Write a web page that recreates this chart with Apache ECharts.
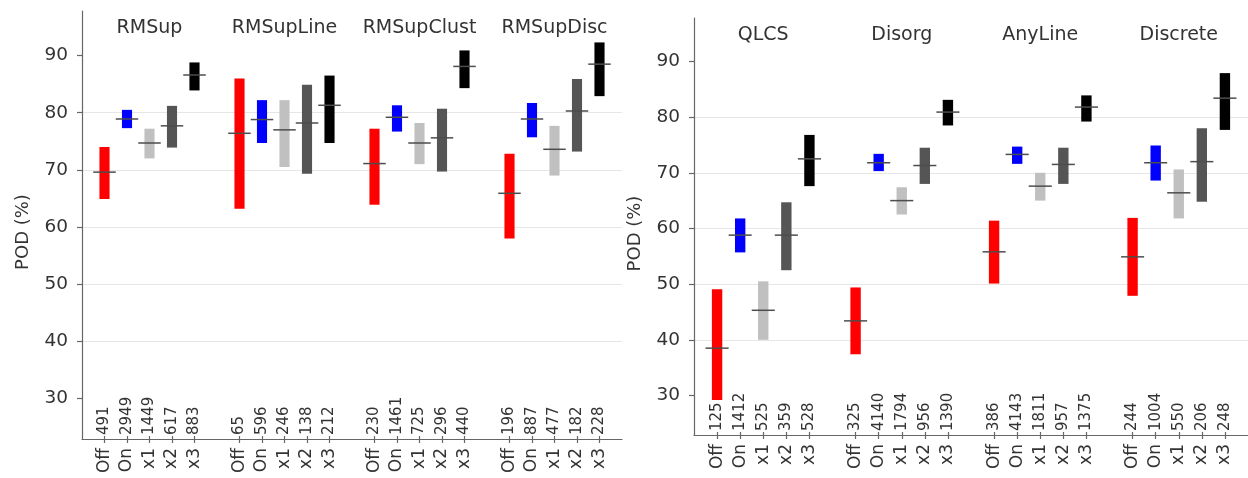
<!DOCTYPE html>
<html>
<head>
<meta charset="utf-8">
<script src="https://cdn.jsdelivr.net/npm/echarts@6/dist/echarts.min.js"></script>
<style>
  html, body { margin: 0; padding: 0; background: #ffffff; }
  #chart { width: 1248px; height: 478px; }
</style>
</head>
<body>
<div id="chart"></div>
<script>
// Detection modes shown inside every group, and their bar colours
const modes = ['Off', 'On', 'x1', 'x2', 'x3'];
const modeColors = ['#ff0000', '#0000ff', '#c0c0c0', '#555555', '#000000'];

// Left panel: rear-inflow-jet subsets
const leftGroups = ['RMSup', 'RMSupLine', 'RMSupClust', 'RMSupDisc'];
const leftLow = [
  [64.9, 77.3, 72.0, 73.9, 83.9],
  [63.2, 74.7, 70.5, 69.3, 74.7],
  [63.9, 76.7, 71.0, 69.7, 84.3],
  [58.0, 75.7, 69.0, 73.2, 82.9]
];
const leftMedian = [
  [69.6, 78.9, 74.7, 77.7, 86.6],
  [76.4, 78.8, 77.0, 78.2, 81.3],
  [71.1, 79.2, 74.7, 75.6, 88.1],
  [65.9, 78.9, 73.6, 80.3, 88.5]
];
const leftHigh = [
  [74.0, 80.5, 77.2, 81.2, 88.8],
  [86.0, 82.2, 82.2, 84.9, 86.5],
  [77.2, 81.3, 78.2, 80.7, 90.9],
  [72.8, 81.7, 77.7, 85.9, 92.3]
];
const leftCounts = [
  [491, 2949, 1449, 617, 883],
  [65, 596, 246, 138, 212],
  [230, 1461, 725, 296, 440],
  [196, 887, 477, 182, 228]
];

// Right panel: convective mode subsets
const rightGroups = ['QLCS', 'Disorg', 'AnyLine', 'Discrete'];
const rightLow = [
  [29.2, 55.7, 40.0, 52.5, 67.6],
  [37.4, 70.3, 62.5, 68.0, 78.5],
  [50.1, 71.6, 65.0, 68.0, 79.2],
  [47.9, 68.6, 61.8, 64.8, 77.7]
];
const rightMedian = [
  [38.5, 58.8, 45.3, 58.8, 72.5],
  [43.4, 71.8, 65.0, 71.3, 80.9],
  [55.8, 73.3, 67.6, 71.5, 81.8],
  [54.9, 71.8, 66.4, 72.0, 83.4]
];
const rightHigh = [
  [49.1, 61.8, 50.5, 64.7, 76.8],
  [49.4, 73.4, 67.4, 74.5, 83.1],
  [61.4, 74.7, 70.0, 74.5, 83.9],
  [61.9, 74.9, 70.6, 78.0, 87.9]
];
const rightCounts = [
  [125, 1412, 525, 359, 528],
  [325, 4140, 1794, 956, 1390],
  [386, 4143, 1811, 957, 1375],
  [244, 1004, 550, 206, 248]
];

// Y axis tick values (POD, %)
const yTicks = [30, 40, 50, 60, 70, 80, 90];
const yMin = 22.9;
const yMax = 97.8;

const FONT = 'DejaVu Sans';
const TEXT = '#333333';
const SPINE = '#666666';

// Each group takes five slots followed by one empty spacer slot,
// with one empty slot at each end of the axis.
const SLOTS = 25;
function slotOf(g, m) { return 1 + g * 6 + m; }

function slotLabels(groups, fn) {
  const arr = new Array(SLOTS).fill('');
  groups.forEach(function (name, g) {
    modes.forEach(function (mode, m) { arr[slotOf(g, m)] = fn(g, m); });
  });
  return arr;
}

function titleLabels(groups) {
  const arr = new Array(SLOTS).fill('');
  groups.forEach(function (name, g) { arr[slotOf(g, 2)] = name; });
  return arr;
}

function seriesData(groups, low, median, high) {
  const out = [];
  groups.forEach(function (name, g) {
    modes.forEach(function (mode, m) {
      out.push([slotOf(g, m), low[g][m], median[g][m], high[g][m], m]);
    });
  });
  return out;
}

const hasLabel = function (labels) {
  return function (index) { return labels[index] !== ''; };
};

// Floating bar from low to high with a median tick across the slot
function renderRange(params, api) {
  const x = api.value(0);
  const lo = api.coord([x, api.value(1)]);
  const md = api.coord([x, api.value(2)]);
  const hi = api.coord([x, api.value(3)]);
  const slot = api.coord([x + 1, api.value(2)])[0] - md[0];
  const bw = slot * 0.45;
  return {
    type: 'group',
    children: [
      {
        type: 'rect',
        shape: { x: lo[0] - bw / 2, y: hi[1], width: bw, height: lo[1] - hi[1] },
        style: { fill: modeColors[api.value(4)] }
      },
      {
        type: 'line',
        shape: { x1: md[0] - slot / 2, y1: md[1], x2: md[0] + slot / 2, y2: md[1] },
        style: { stroke: '#4d4d4d', lineWidth: 1.5 }
      }
    ]
  };
}

function xAxesFor(gridIndex, groups, counts) {
  const modeLabels = slotLabels(groups, function (g, m) { return modes[m]; });
  const countLabels = slotLabels(groups, function (g, m) { return String(counts[g][m]); });
  const titles = titleLabels(groups);
  return [
    {
      type: 'category', gridIndex: gridIndex, position: 'bottom', data: modeLabels,
      boundaryGap: false,
      axisLine: { show: true, onZero: false, lineStyle: { color: SPINE, width: 1.2 } },
      axisTick: { show: true, length: 4, interval: hasLabel(modeLabels), lineStyle: { color: SPINE, width: 1.2 } },
      axisLabel: { show: true, rotate: 90, margin: 9, interval: hasLabel(modeLabels),
                   fontSize: 17, fontFamily: FONT, color: TEXT },
      splitLine: { show: false }
    },
    {
      type: 'category', gridIndex: gridIndex, position: 'bottom', data: countLabels,
      boundaryGap: false,
      axisLine: { show: false, onZero: false },
      axisTick: { show: true, inside: true, length: 3, interval: hasLabel(countLabels),
                  lineStyle: { color: SPINE, width: 1.2 } },
      axisLabel: { show: true, inside: true, rotate: 90, margin: 4, interval: hasLabel(countLabels),
                   fontSize: 15, fontFamily: FONT, color: TEXT },
      splitLine: { show: false }
    },
    {
      type: 'category', gridIndex: gridIndex, position: 'top', data: titles,
      boundaryGap: false,
      axisLine: { show: false, onZero: false },
      axisTick: { show: false },
      axisLabel: { show: true, inside: true, margin: 8, interval: hasLabel(titles),
                   fontSize: 19, fontFamily: FONT, color: TEXT },
      splitLine: { show: false }
    }
  ];
}

function yAxisFor(gridIndex) {
  return {
    type: 'value', gridIndex: gridIndex, min: yMin, max: yMax,
    name: 'POD (%)', nameLocation: 'middle', nameGap: 50,
    nameTextStyle: { fontSize: 18, fontFamily: FONT, color: TEXT, padding: [0, 14, 0, 0] },
    axisLine: { show: true, lineStyle: { color: SPINE, width: 1.2 } },
    axisTick: { show: true, length: 5, customValues: yTicks, lineStyle: { color: SPINE, width: 1.2 } },
    axisLabel: { show: true, customValues: yTicks, margin: 14, fontSize: 18.5, fontFamily: FONT, color: TEXT },
    splitLine: { show: true, showMinLine: false, showMaxLine: false,
                 lineStyle: { color: '#e6e6e6', width: 1.2 } }
  };
}

const chart = echarts.init(document.getElementById('chart'), null, { renderer: 'canvas' });

chart.setOption({
  backgroundColor: '#ffffff',
  animation: false,
  textStyle: { fontFamily: FONT },
  grid: [
    { left: 82, top: 11, width: 540, height: 428 },
    { left: 694, top: 18, width: 557, height: 417 }
  ],
  xAxis: xAxesFor(0, leftGroups, leftCounts).concat(xAxesFor(1, rightGroups, rightCounts)),
  yAxis: [yAxisFor(0), yAxisFor(1)],
  series: [
    {
      type: 'custom', name: 'left', xAxisIndex: 0, yAxisIndex: 0,
      renderItem: renderRange,
      data: seriesData(leftGroups, leftLow, leftMedian, leftHigh),
      encode: { x: 0, y: [1, 2, 3] }
    },
    {
      type: 'custom', name: 'right', xAxisIndex: 3, yAxisIndex: 1,
      renderItem: renderRange,
      data: seriesData(rightGroups, rightLow, rightMedian, rightHigh),
      encode: { x: 0, y: [1, 2, 3] }
    }
  ]
});
</script>
</body>
</html>
